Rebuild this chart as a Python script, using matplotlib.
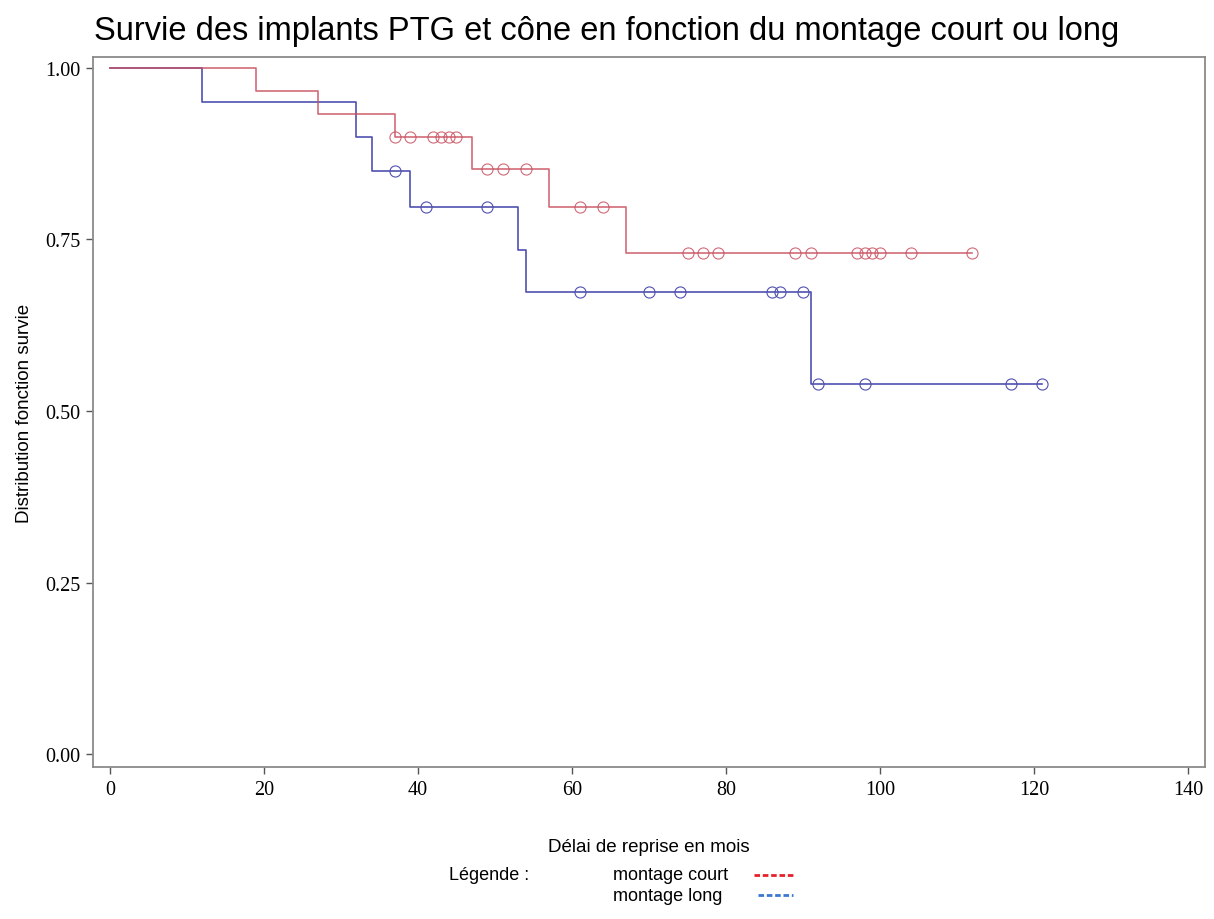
import matplotlib
matplotlib.use("Agg")
import matplotlib.pyplot as plt
from matplotlib.lines import Line2D
import numpy as np

# Kaplan-Meier steps (time of event, survival after it)
court_t = [0, 19, 27, 37, 47, 57, 67]
court_s = [1.0, 0.967, 0.933, 0.900, 0.853, 0.797, 0.730]
court_end = 112
court_cens = [37, 39, 42, 43, 44, 45, 49, 51, 54, 61, 64, 75, 77, 79,
              89, 91, 97, 98, 99, 100, 104, 112]

long_t = [0, 12, 32, 34, 39, 53, 54, 91]
long_s = [1.0, 0.95, 0.90, 0.85, 0.797, 0.735, 0.674, 0.539]
long_end = 121
long_cens = [37, 41, 49, 61, 70, 74, 86, 87, 90, 92, 98, 117, 121]

x_ticks = [0, 20, 40, 60, 80, 100, 120, 140]
y_ticks = [0.0, 0.25, 0.5, 0.75, 1.0]

red = "#c8505f"
blue = "#5050b0"
serif = "Liberation Serif"
sans = "Liberation Sans"


def km_at(t_steps, s_steps, t):
    idx = np.searchsorted(t_steps, t, side="right") - 1
    return np.asarray(s_steps)[idx]


def draw_km(ax, t_steps, s_steps, t_end, cens, color, alpha=1.0):
    xs = list(t_steps) + [t_end]
    ys = list(s_steps) + [s_steps[-1]]
    ax.step(xs, ys, where="post", color=color, lw=1.2, alpha=alpha)
    ax.plot(cens, km_at(t_steps, s_steps, cens), "o", ms=8, mfc="none",
            mec=color, mew=0.8, ls="none", alpha=alpha)


fig = plt.figure(figsize=(12.14, 9.2), dpi=100)
ax = fig.add_axes([0.0766, 0.165, 0.916, 0.772])

draw_km(ax, long_t, long_s, long_end, long_cens, blue)
draw_km(ax, court_t, court_s, court_end, court_cens, red, alpha=0.85)

ax.set_xlim(-2.2, 142.2)
ax.set_ylim(-0.019, 1.016)
ax.set_xticks(x_ticks)
ax.set_xticklabels([str(v) for v in x_ticks], family=serif, fontsize=14.5)
ax.set_yticks(y_ticks)
ax.set_yticklabels([f"{v:.2f}" for v in y_ticks], family=serif, fontsize=14.5)
for sp in ax.spines.values():
    sp.set_color("#8a8a8a")
    sp.set_linewidth(1.3)
ax.tick_params(color="#555555", length=5, width=1, pad=4)

ax.set_xlabel("Délai de reprise en mois", family=sans, fontsize=13.5, labelpad=28)
ax.set_ylabel("Distribution fonction survie", family=sans, fontsize=13.5, labelpad=9)

fig.text(0.5, 0.966, "Survie des implants PTG et cône en fonction du montage court ou long",
         ha="center", va="center", family=sans, fontsize=23.5)

# legend below the axis
fig.text(0.370, 0.048, "Légende :", family=sans, fontsize=13, va="center")
fig.text(0.505, 0.048, "montage court", family=sans, fontsize=13, va="center")
fig.text(0.505, 0.026, "montage long", family=sans, fontsize=13, va="center")
fig.add_artist(Line2D([0.621, 0.653], [0.048, 0.048], color="#e8202a", lw=2,
                      ls=(0, (2, 1)), transform=fig.transFigure))
fig.add_artist(Line2D([0.624, 0.653], [0.026, 0.026], color="#3a78d0", lw=2,
                      ls=(0, (2, 1)), transform=fig.transFigure))

fig.savefig("out.png", dpi=100)
